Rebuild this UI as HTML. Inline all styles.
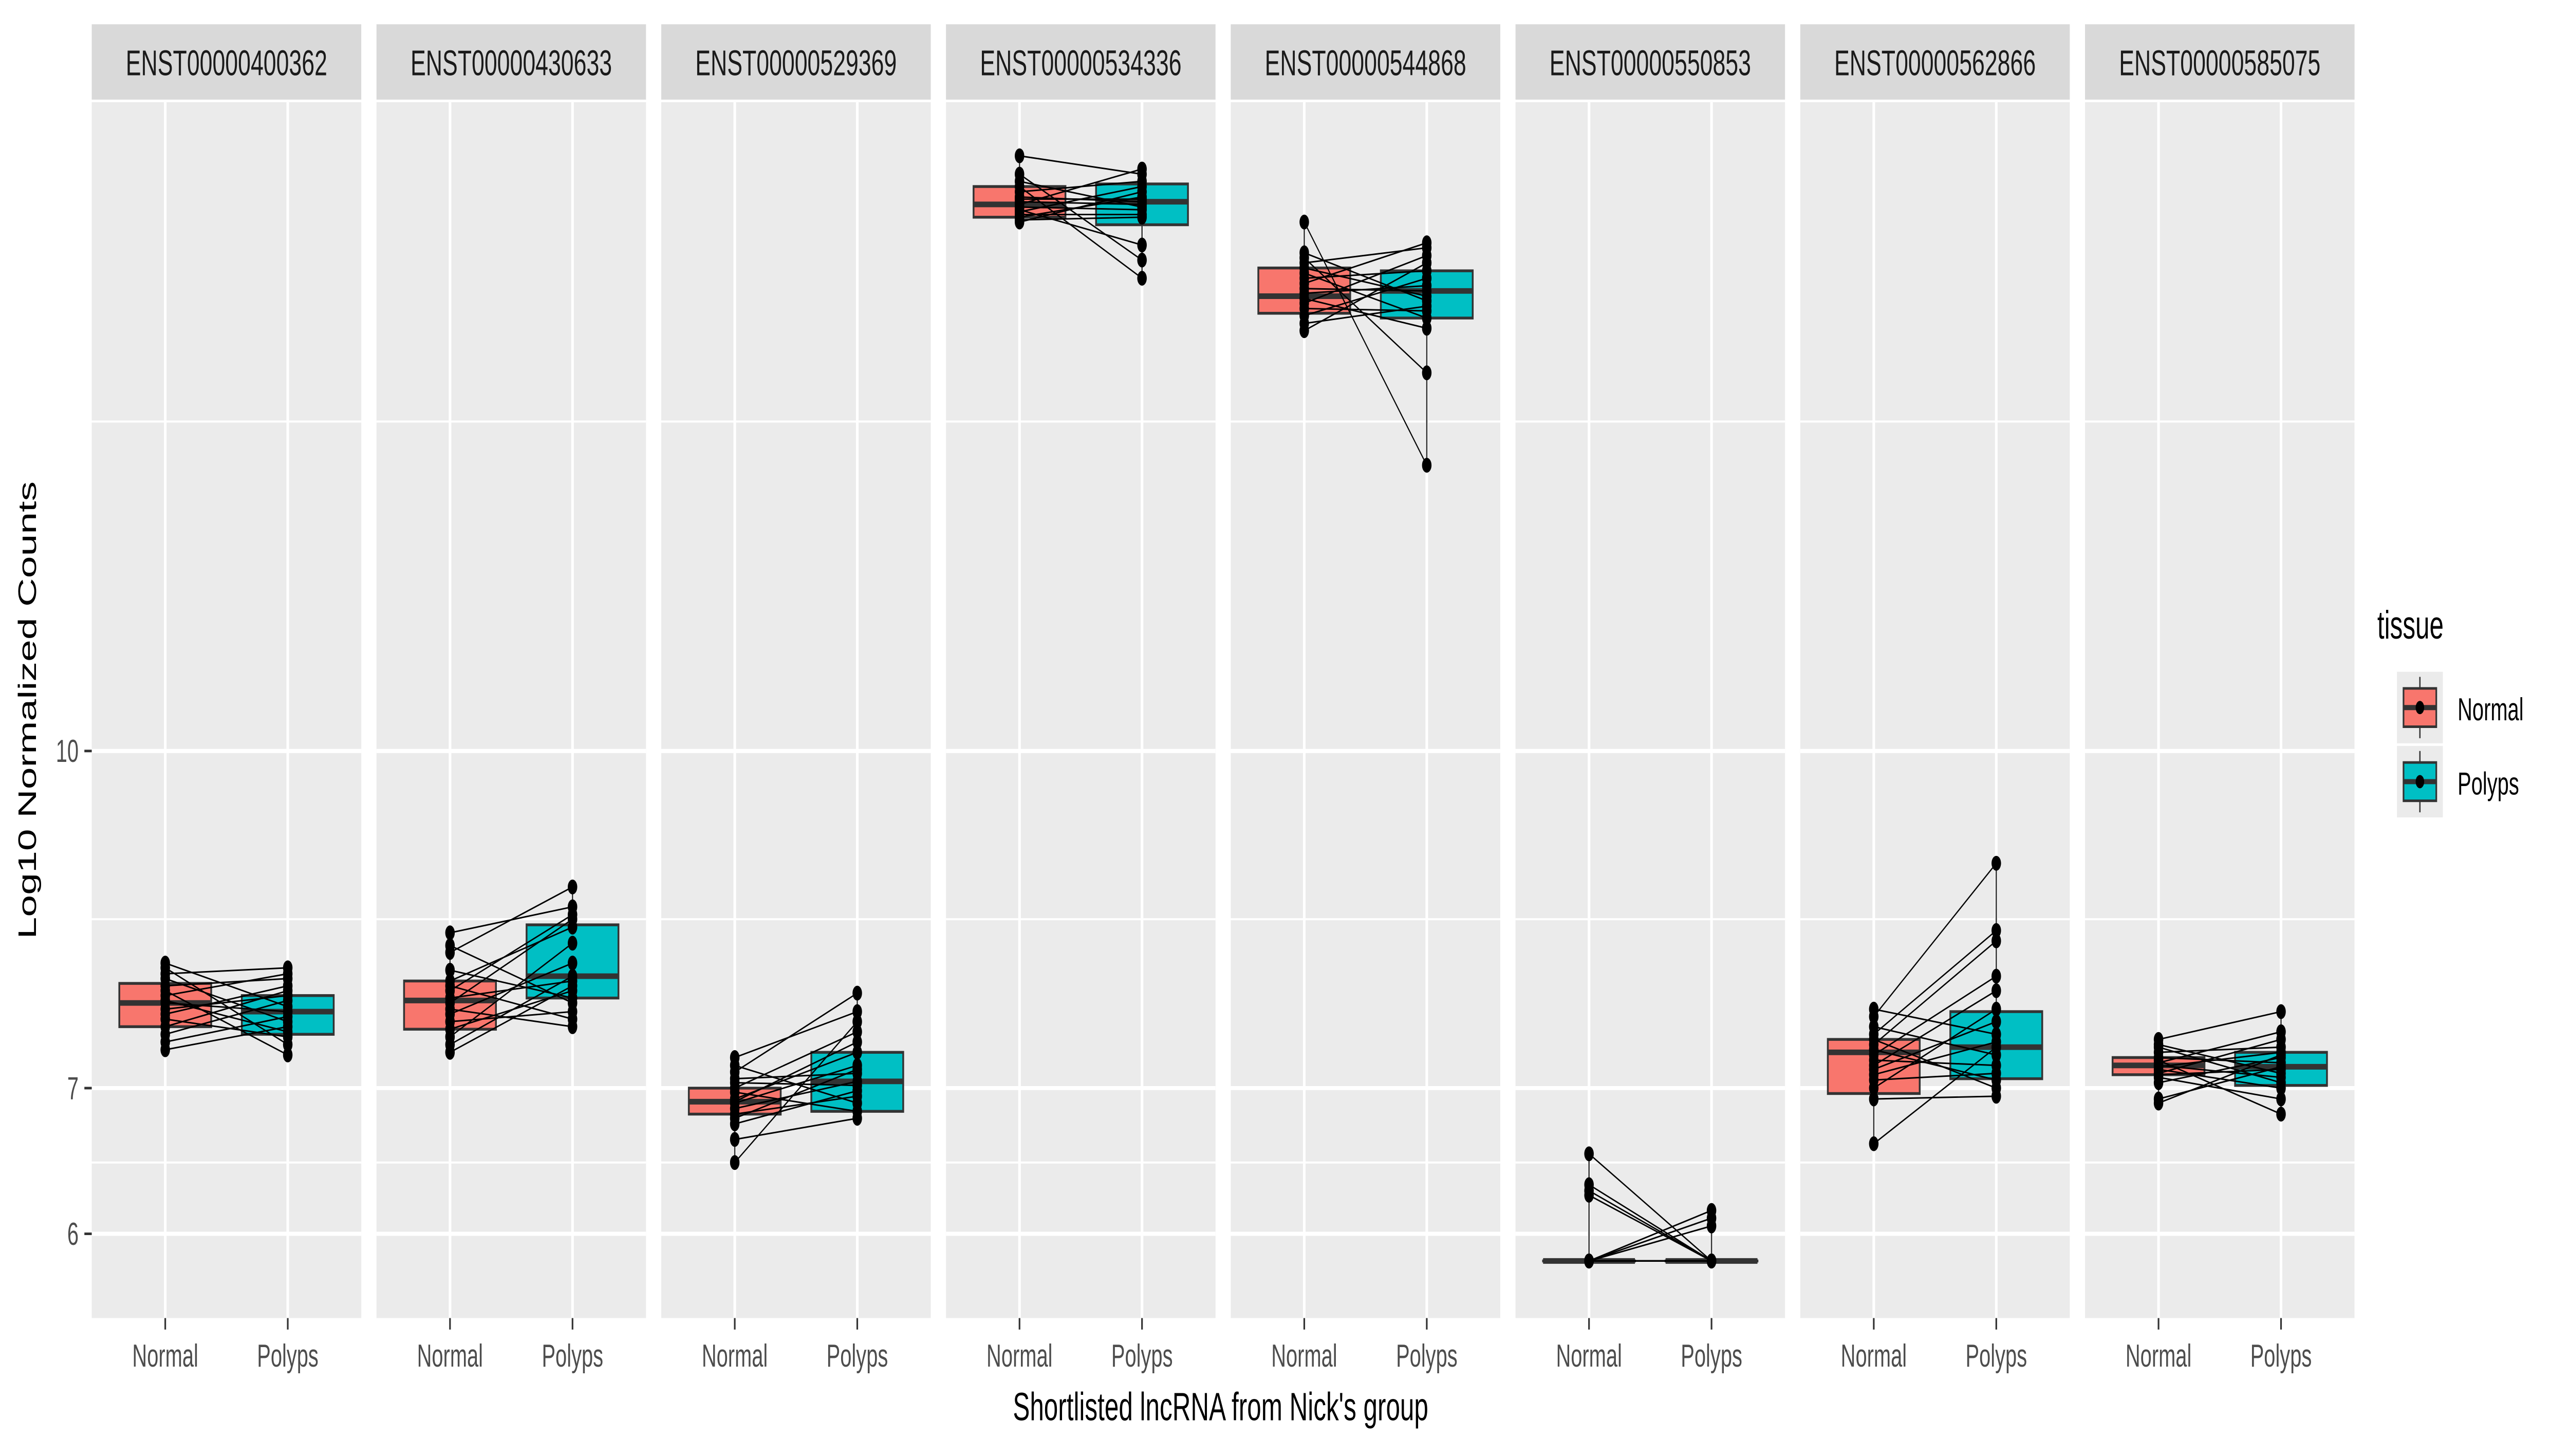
<!DOCTYPE html>
<html><head><meta charset="utf-8"><style>
html,body{margin:0;padding:0;background:#fff;width:100%;height:100%;overflow:hidden}
svg{display:block;width:100vw;height:100vh}
text{font-family:"Liberation Sans",Arial,sans-serif}
</style></head><body>
<svg id="chart" xmlns="http://www.w3.org/2000/svg" viewBox="0 0 1568 570" preserveAspectRatio="none">
<rect x="0" y="0" width="1568" height="570" fill="#fff"/>
<g id="panels"></g>
<text x="745" y="556" font-size="15.5" fill="#000" text-anchor="middle">Shortlisted lncRNA from Nick's group</text>
<text transform="translate(22,278) rotate(-90)" font-size="15.5" fill="#000" text-anchor="middle">Log10 Normalized Counts</text>
<g>
<text x="1451" y="250" font-size="15.5" fill="#000">tissue</text>
<g>
<rect x="1463" y="263" width="28" height="28" fill="#ebebeb"/>
<line x1="1477" y1="265" x2="1477" y2="289" stroke="#333" stroke-width="0.8"/>
<rect x="1467" y="269.5" width="20" height="15" fill="#F8766D" stroke="#333" stroke-width="1"/>
<line x1="1467" y1="277" x2="1487" y2="277" stroke="#333" stroke-width="2"/>
<circle cx="1477" cy="277" r="2.6" fill="#000"/>
<text x="1500" y="282" font-size="12.5" fill="#000">Normal</text>
</g>
<g>
<rect x="1463" y="292" width="28" height="28" fill="#ebebeb"/>
<line x1="1477" y1="294" x2="1477" y2="318" stroke="#333" stroke-width="0.8"/>
<rect x="1467" y="298.5" width="20" height="15" fill="#00BFC4" stroke="#333" stroke-width="1"/>
<line x1="1467" y1="306" x2="1487" y2="306" stroke="#333" stroke-width="2"/>
<circle cx="1477" cy="306" r="2.6" fill="#000"/>
<text x="1500" y="311" font-size="12.5" fill="#000">Polyps</text>
</g>
</g>
</svg>
<script>
const panelNames = ["ENST00000400362","ENST00000430633","ENST00000529369","ENST00000534336","ENST00000544868","ENST00000550853","ENST00000562866","ENST00000585075"];
const categories = ["Normal","Polyps"];
const yTicks = [6,7,10];
const yMinor = [6.47,8.37,14.17];
// paired sample values, index i in normal pairs with index i in polyps
const normalVals = [
 [7.99,7.95,7.90,7.86,7.80,7.76,7.72,7.68,7.66,7.61,7.57,7.53,7.47,7.41,7.35,7.29],
 [8.25,8.14,8.08,7.93,7.84,7.80,7.76,7.70,7.66,7.61,7.57,7.51,7.45,7.39,7.33,7.27],
 [7.23,7.17,7.12,7.07,7.04,7.00,6.97,6.92,6.90,6.89,6.85,6.81,6.78,6.74,6.63,6.47],
 [18.77,18.41,18.27,18.17,18.07,17.97,17.93,17.88,17.83,17.78,17.73,17.69,17.64,17.59,17.54,17.50],
 [17.50,16.94,16.85,16.76,16.67,16.58,16.49,16.40,16.31,16.23,16.14,16.06,15.97,15.85,15.72,15.60],
 [6.53,6.32,6.28,6.25,5.83,5.83,5.83,5.83,5.83,5.83,5.83,5.83,5.83,5.83,5.83,5.83],
 [7.61,7.55,7.47,7.41,7.37,7.33,7.29,7.25,7.21,7.17,7.14,7.10,7.06,7.00,6.92,6.60],
 [7.37,7.33,7.31,7.27,7.23,7.21,7.19,7.17,7.16,7.14,7.11,7.10,7.08,7.04,6.92,6.89]
];
const polypsVals = [
 [7.63,7.33,7.95,7.51,7.86,7.25,7.90,7.43,7.59,7.72,7.80,7.39,7.76,7.68,7.55,7.47],
 [8.48,7.66,8.66,7.70,8.30,7.53,8.41,7.84,8.37,7.47,7.99,7.59,7.76,8.16,7.88,7.80],
 [7.59,6.89,7.74,7.11,7.02,7.43,6.83,7.27,7.35,7.17,7.05,6.94,7.14,6.98,6.78,7.51],
 [18.41,16.81,17.78,16.49,18.27,17.88,17.93,17.83,18.51,17.73,17.08,18.17,17.64,17.97,17.59,18.07],
 [13.53,16.10,14.92,17.03,16.18,15.81,16.62,17.12,16.27,16.36,15.64,16.89,15.93,16.49,16.01,16.76],
 [5.83,5.83,5.83,5.83,6.15,6.10,6.05,5.83,5.83,5.83,5.83,5.83,5.83,5.83,5.83,5.83],
 [7.41,8.88,7.25,8.27,7.00,8.18,7.06,7.88,7.17,7.76,7.51,7.35,7.11,7.61,6.94,7.31],
 [7.59,7.11,7.04,7.31,7.19,6.81,7.43,7.08,7.27,7.00,7.37,7.14,6.92,7.23,7.16,7.25]
];
const normalBox = [[7.47,7.66,7.82],[7.45,7.68,7.84],[6.81,6.90,7.00],[17.59,17.83,18.17],[15.89,16.18,16.67],[5.83,5.83,5.83],[6.96,7.27,7.37],[7.10,7.17,7.23]];
const polypsBox = [[7.41,7.59,7.72],[7.70,7.88,8.32],[6.83,7.05,7.27],[17.45,17.88,18.22],[15.81,16.27,16.62],[5.83,5.83,5.83],[7.07,7.31,7.59],[7.02,7.16,7.27]];

const NS="http://www.w3.org/2000/svg";
const panelTop=40, panelBottom=516, plotLeft=56, pitch=173.8, panelW=164.5;
const k=852, y10=294;
function yScale(v){ return y10 - (Math.log10(v)-1)*k; }
function xScale(p,c){ return plotLeft+p*pitch + panelW*(0.6+c)/2.2; }
function mk(tag,attrs,parent){ const e=document.createElementNS(NS,tag); for(const a in attrs) e.setAttribute(a,attrs[a]); parent.appendChild(e); return e; }
const root=document.getElementById('panels');
const svg=document.getElementById('chart');

yTicks.forEach(t=>{
  const y=yScale(t);
  const tk=mk('line',{x1:51.5,x2:56,y1:y,y2:y,stroke:'#333','stroke-width':1},svg);
  
  
  const lb=mk('text',{x:48,y:y+4.3,'font-size':12.5,fill:'#4d4d4d','text-anchor':'end'},svg);
  lb.textContent=String(t);
  
  
});

panelNames.forEach((name,p)=>{
  const x0=plotLeft+p*pitch;
  const g=mk('g',{},root);
  
  
  const strip=mk('rect',{x:x0,y:9.5,width:panelW,height:29.5,fill:'#d9d9d9'},g);
  
  
  const st=mk('text',{x:x0+panelW/2,y:29.5,'font-size':14,fill:'#1a1a1a','text-anchor':'middle'},g);
  st.textContent=name;
  
  
  const bg=mk('rect',{x:x0,y:panelTop,width:panelW,height:panelBottom-panelTop,fill:'#ebebeb'},g);
  
  
  yMinor.forEach(v=>{ const y=yScale(v); mk('line',{x1:x0,x2:x0+panelW,y1:y,y2:y,stroke:'#fff','stroke-width':0.8},g); });
  yTicks.forEach(v=>{ const y=yScale(v); mk('line',{x1:x0,x2:x0+panelW,y1:y,y2:y,stroke:'#fff','stroke-width':1.6},g); });
  categories.forEach((c,ci)=>{
    const x=xScale(p,ci);
    mk('line',{x1:x,x2:x,y1:panelTop,y2:panelBottom,stroke:'#fff','stroke-width':1.6},g);
    const tk=mk('line',{x1:x,x2:x,y1:panelBottom,y2:panelBottom+4.5,stroke:'#333','stroke-width':1},g);
    
    
    const lb=mk('text',{x:x,y:535,'font-size':12.5,fill:'#4d4d4d','text-anchor':'middle'},g);
    lb.textContent=c;
    
    
  });
  [[normalVals[p],normalBox[p],'#F8766D'],[polypsVals[p],polypsBox[p],'#00BFC4']].forEach(([vals,bx,col],ci)=>{
    const x=xScale(p,ci), hw=panelW*0.375/2.2;
    const mn=Math.min(...vals), mx=Math.max(...vals);
    mk('line',{x1:x,x2:x,y1:yScale(mx),y2:yScale(bx[2]),stroke:'#333','stroke-width':0.8},g);
    mk('line',{x1:x,x2:x,y1:yScale(bx[0]),y2:yScale(mn),stroke:'#333','stroke-width':0.8},g);
    const yt=yScale(bx[2]), yb=yScale(bx[0]);
    const r=mk('rect',{x:x-hw,y:yt,width:2*hw,height:Math.max(yb-yt,0.01),fill:col,stroke:'#333','stroke-width':1.1},g);
    
    
    const ym=yScale(bx[1]);
    mk('line',{x1:x-hw,x2:x+hw,y1:ym,y2:ym,stroke:'#333','stroke-width':2.2},g);
  });
  normalVals[p].forEach((v,i)=>{
    const l=mk('line',{x1:xScale(p,0),y1:yScale(v),x2:xScale(p,1),y2:yScale(polypsVals[p][i]),stroke:'#000','stroke-width':0.6},g);
    
    
  });
  [normalVals[p],polypsVals[p]].forEach((vals,ci)=>{
    vals.forEach(v=>{
      const c=mk('circle',{cx:xScale(p,ci),cy:yScale(v),r:2.9,fill:'#000'},g);
      
      
    });
  });
});
</script>
</body></html>
